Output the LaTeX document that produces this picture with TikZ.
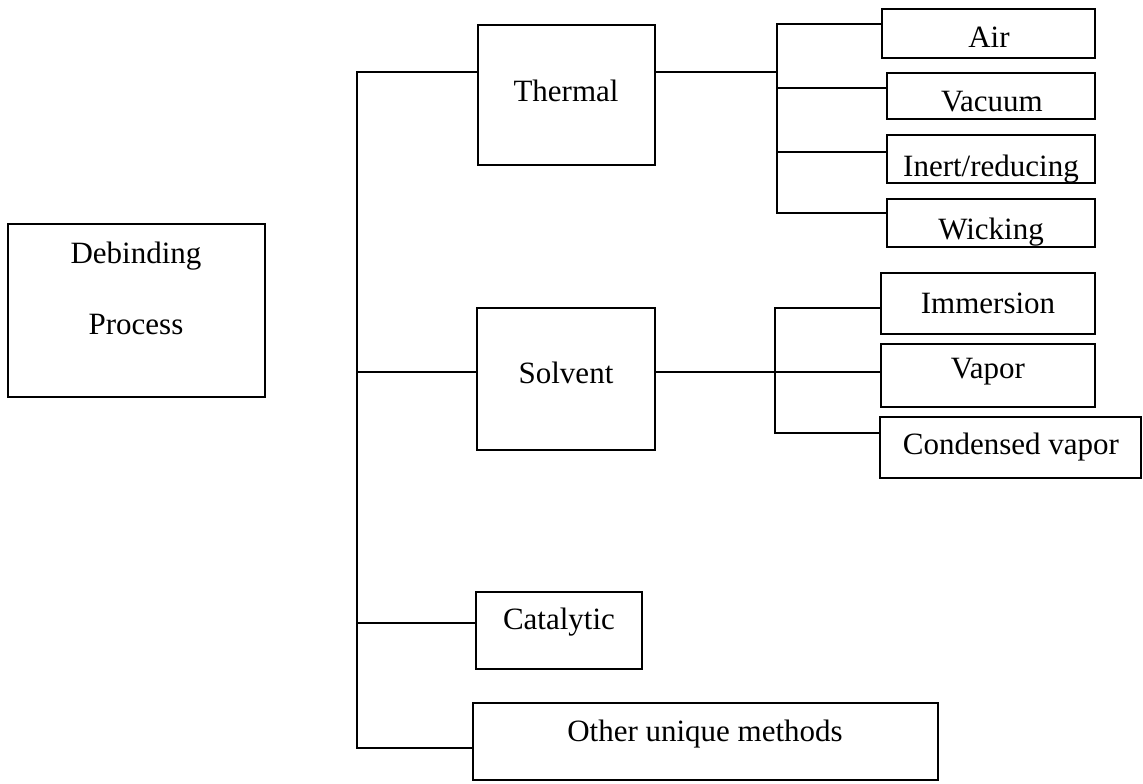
\documentclass[tikz,border=0pt]{standalone}
\usepackage{fontspec}
\setmainfont{Liberation Serif}
\begin{document}
\begin{tikzpicture}[x=1pt,y=-1pt,
  box/.style={draw=black,line width=1.8pt,inner sep=0pt,outer sep=0pt,rectangle},
  lbl/.style={inner sep=0pt,anchor=base,font=\fontsize{31}{37}\selectfont},
  wire/.style={draw=black,line width=1.8pt}]
\useasboundingbox[fill=white] (0,0) rectangle (1143,784);
% main boxes
\node[box,minimum width=257pt,minimum height=173pt] (deb) at (136.5,310.5) {};
\node[lbl] (debt1) at (136,263) {Debinding};
\node[lbl] (debt2) at (136,334) {Process};
\node[box,minimum width=177pt,minimum height=140pt] (thermal) at (566.5,95) {};
\node[lbl] (thermalt) at (566,101) {Thermal};
\node[box,minimum width=178pt,minimum height=142pt] (solvent) at (566,379) {};
\node[lbl] (solventt) at (566,383) {Solvent};
\node[box,minimum width=166pt,minimum height=77pt] (catalytic) at (559,630.5) {};
\node[lbl] (catalytict) at (559,629) {Catalytic};
\node[box,minimum width=465pt,minimum height=77pt] (other) at (705.5,741.5) {};
\node[lbl] (othert) at (705,741) {Other unique methods};
% thermal sub-boxes
\node[box,minimum width=213pt,minimum height=49pt] (air) at (988.5,33.5) {};
\node[lbl] (airt) at (989,48) {Air};
\node[box,minimum width=208pt,minimum height=46pt] (vacuum) at (991,96) {};
\node[lbl] (vacuumt) at (992,111) {Vacuum};
\begin{scope}
\clip (887,135) rectangle (1095,183);
\node[lbl] (inertt) at (991,176) {Inert/reducing};
\end{scope}
\node[box,minimum width=208pt,minimum height=48pt] (inert) at (991,159) {};
\begin{scope}
\clip (887,199) rectangle (1095,247);
\node[lbl] (wickingt) at (991,239) {Wicking};
\end{scope}
\node[box,minimum width=208pt,minimum height=48pt] (wicking) at (991,223) {};
% solvent sub-boxes
\node[box,minimum width=214pt,minimum height=61pt] (immersion) at (988,303.5) {};
\node[lbl] (immersiont) at (988,313) {Immersion};
\node[box,minimum width=214pt,minimum height=63pt] (vapor) at (988,375.5) {};
\node[lbl] (vaport) at (988,378) {Vapor};
\node[box,minimum width=261pt,minimum height=61pt] (condensed) at (1010.5,447.5) {};
\node[lbl] (condensedt) at (1011,454) {Condensed vapor};
% trunk
\coordinate (trtop) at (357,72);
\coordinate (trsol) at (357,372);
\coordinate (trcat) at (357,623);
\coordinate (trbot) at (357,748);
\draw[wire] (thermal.west |- trtop) -- (trtop) -- (trbot) -- (other.west |- trbot);
\draw[wire] (trsol) -- (solvent.west |- trsol);
\draw[wire] (trcat) -- (catalytic.west |- trcat);
% thermal sub-trunk
\coordinate (st1) at (777,72);
\coordinate (st1top) at (777,24);
\coordinate (st1v) at (777,88);
\coordinate (st1i) at (777,152);
\coordinate (st1bot) at (777,213);
\draw[wire] (thermal.east |- st1) -- (st1);
\draw[wire] (air.west |- st1top) -- (st1top) -- (st1bot) -- (wicking.west |- st1bot);
\draw[wire] (st1v) -- (vacuum.west |- st1v);
\draw[wire] (st1i) -- (inert.west |- st1i);
% solvent sub-trunk
\coordinate (st2top) at (775,308);
\coordinate (st2bot) at (775,433);
\draw[wire] (solvent.east |- trsol) -- (vapor.west |- trsol);
\draw[wire] (immersion.west |- st2top) -- (st2top) -- (st2bot) -- (condensed.west |- st2bot);
\end{tikzpicture}
\end{document}
